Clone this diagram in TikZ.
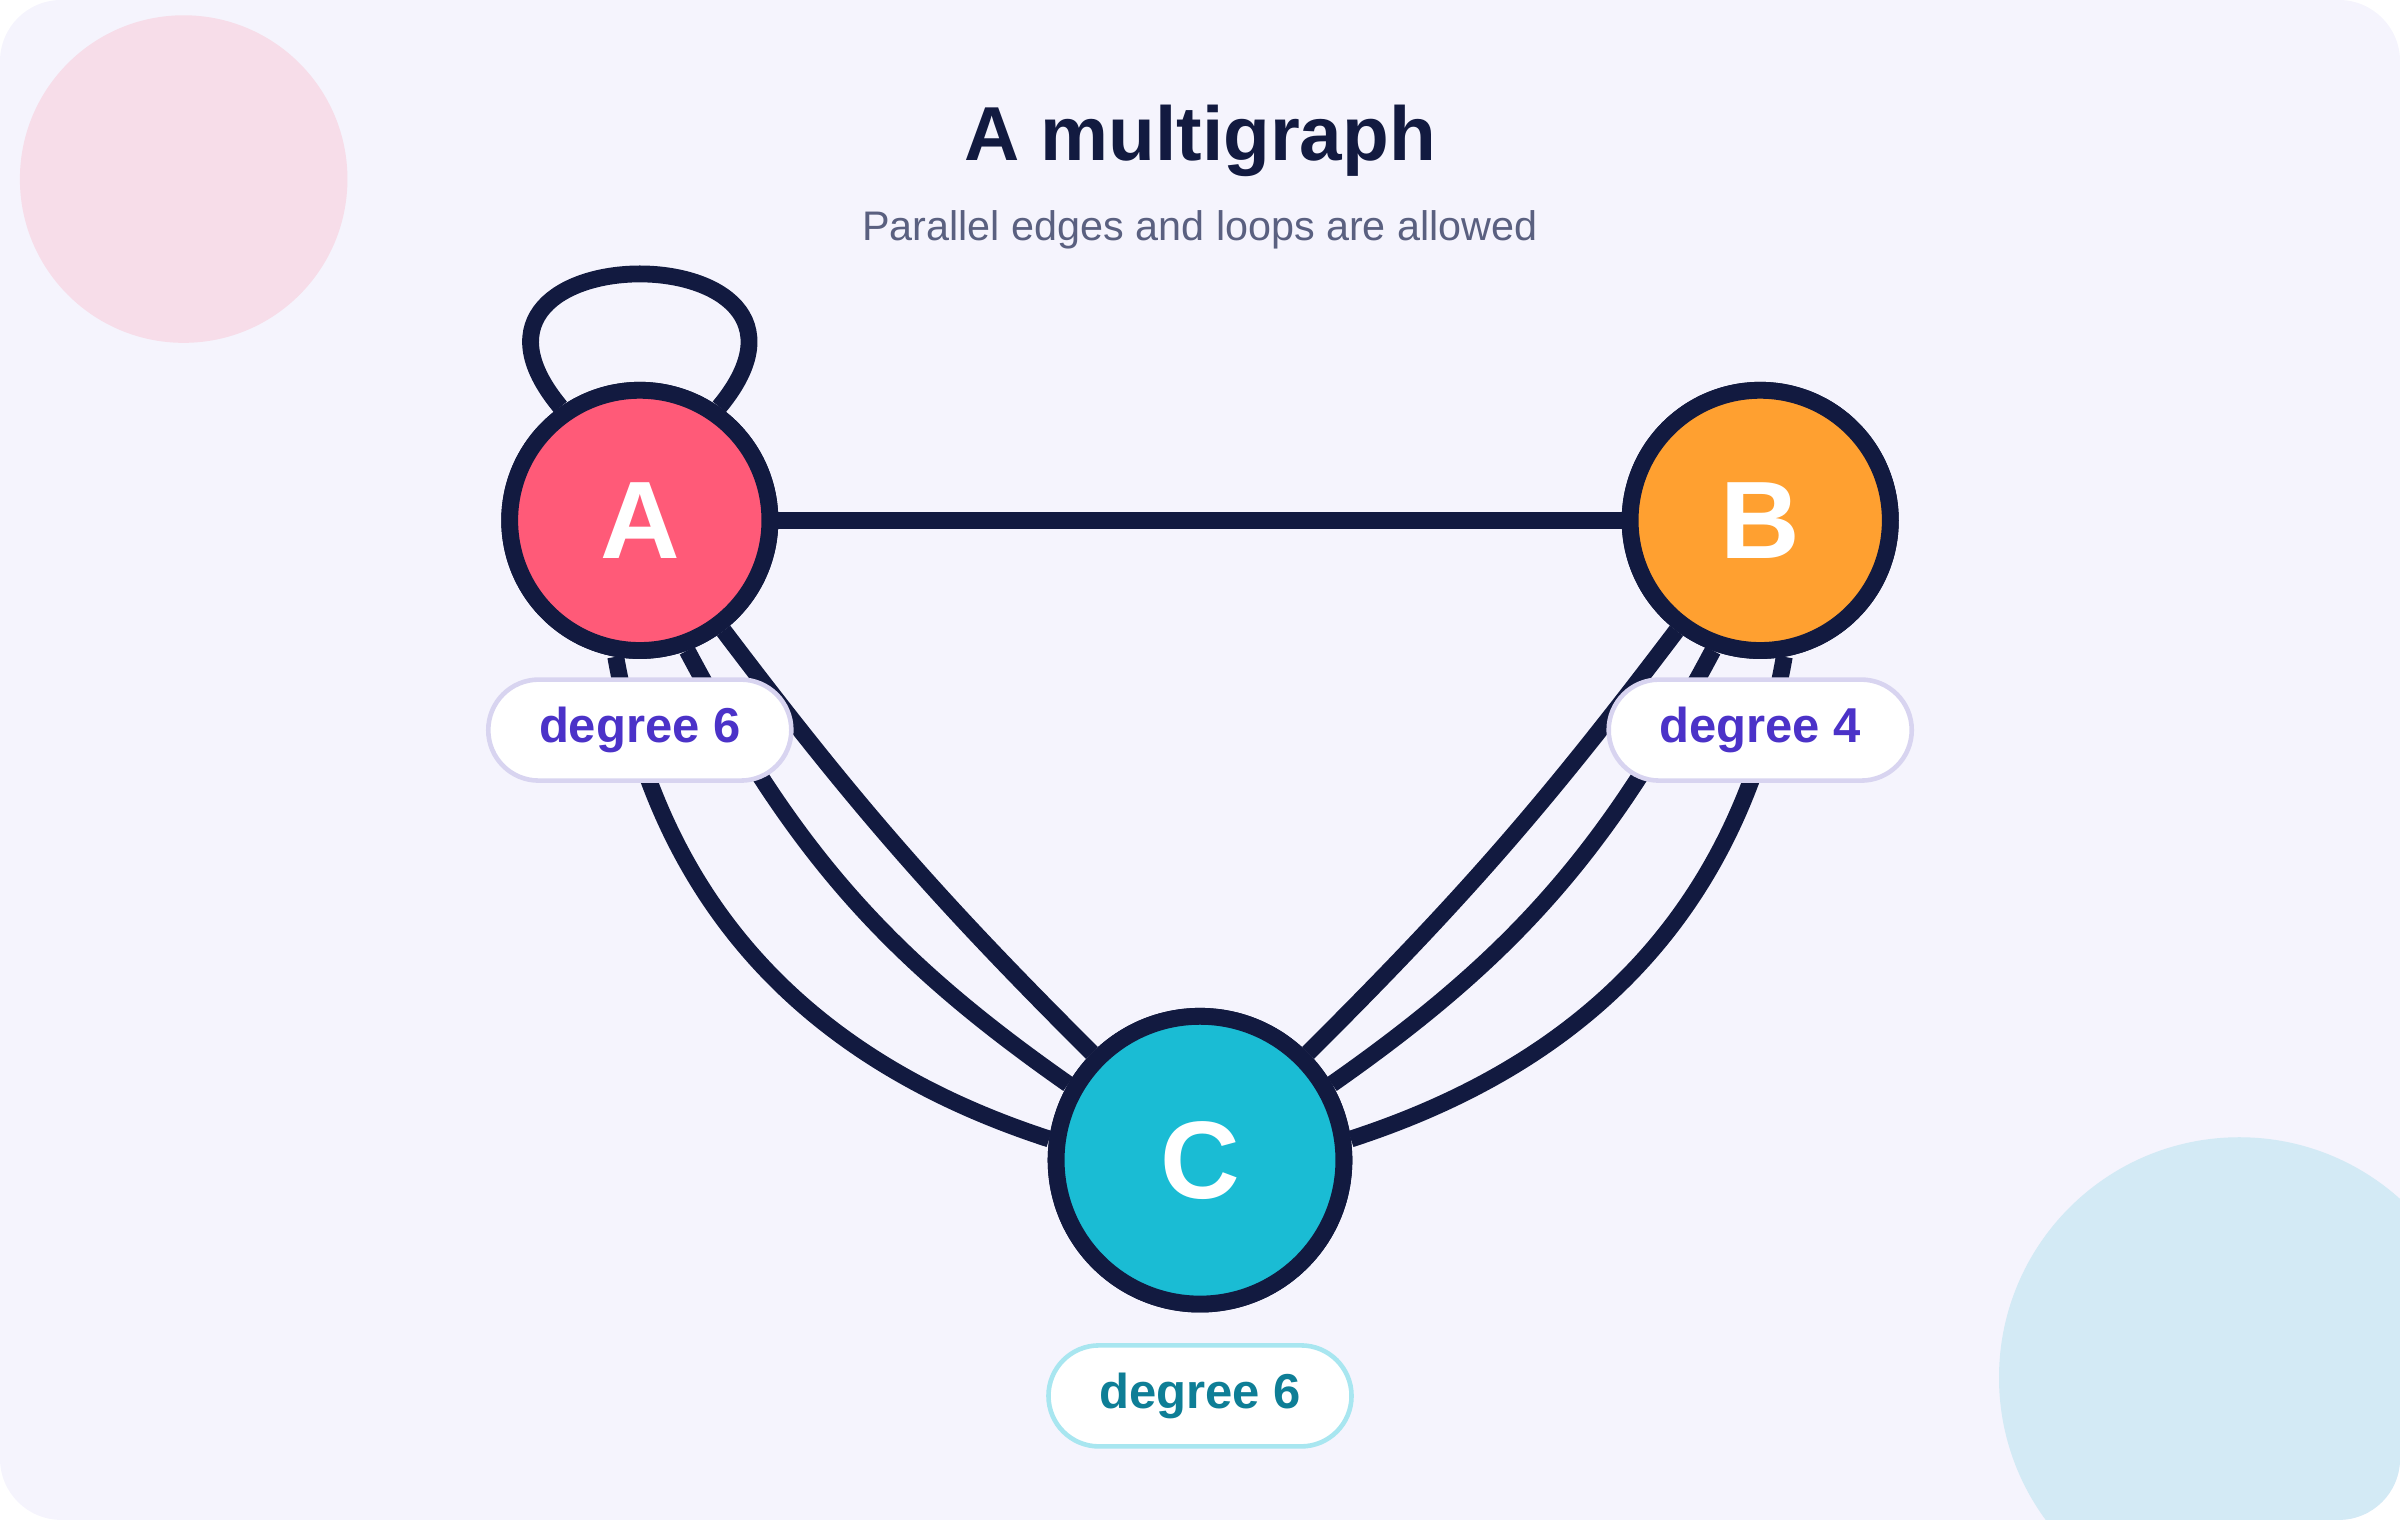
\documentclass[tikz,border=0pt]{standalone}
\usepackage{fontspec}
\setmainfont{Liberation Sans}
\begin{document}
\begin{tikzpicture}[x=1pt,y=1pt,
  edge/.style={draw=navy,line width=11pt},
  vert/.style={circle,draw=navy,line width=11pt,text=white,font=\fontsize{72}{74}\selectfont\bfseries,inner sep=0pt},
  pill/.style={rounded corners=33pt,fill=white,line width=3pt,minimum width=198pt,minimum height=66pt,font=\fontsize{32}{34}\selectfont\bfseries}]
\definecolor{navy}{HTML}{121A40}
\definecolor{bg}{HTML}{F5F4FD}
\useasboundingbox (0,0) rectangle (1568,993);
\begin{scope}
\clip[rounded corners=40pt] (0,0) rectangle (1568,993);
\fill[bg] (0,0) rectangle (1568,993);
\fill[fill={rgb,255:red,247;green,221;blue,233}] (120,876) circle (107);
\fill[fill={rgb,255:red,211;green,234;blue,245}] (1463,93) circle (157);
\end{scope}
\node (title) at (784,901) {\fontsize{50}{54}\selectfont\bfseries\color{navy}A multigraph};
\node (sub) at (784,843) {\fontsize{27}{30}\selectfont\color[HTML]{5A6080}Parallel edges and loops are allowed};
\node[vert,fill={rgb,255:red,255;green,90;blue,120},minimum size=170pt] (A) at (418,653) {};
\node[vert,fill={rgb,255:red,255;green,160;blue,48},minimum size=170pt] (B) at (1150,653) {};
\node[vert,fill={rgb,255:red,26;green,188;blue,212},minimum size=188pt] (C) at (784,235) {};
\draw[edge] (A.125) .. controls (270,843) and (566,843) .. (A.55);
\draw[edge] (A) -- (B);
\draw[edge] (A) to[bend right=4] (C);
\draw[edge] (B) to[bend left=4] (C);
\draw[edge] (A.-100) to[out=-80,in=162] (C.172);
\draw[edge] (A.-70) to[out=-62,in=145] (C.150);
\draw[edge] (B.-80) to[out=-100,in=18] (C.8);
\draw[edge] (B.-110) to[out=-118,in=35] (C.30);
\node[vert,fill={rgb,255:red,255;green,90;blue,120},minimum size=170pt] at (418,653) {A};
\node[vert,fill={rgb,255:red,255;green,160;blue,48},minimum size=170pt] at (1150,653) {B};
\node[vert,fill={rgb,255:red,26;green,188;blue,212},minimum size=188pt] at (784,235) {C};
\node[pill,draw={rgb,255:red,216;green,212;blue,240},text={rgb,255:red,75;green,50;blue,200}] (la) at (418,516) {degree 6};
\node[pill,draw={rgb,255:red,216;green,212;blue,240},text={rgb,255:red,75;green,50;blue,200}] (lb) at (1150,516) {degree 4};
\node[pill,draw={rgb,255:red,168;green,230;blue,240},text={rgb,255:red,14;green,126;blue,150}] (lc) at (784,81) {degree 6};
\end{tikzpicture}
\end{document}
